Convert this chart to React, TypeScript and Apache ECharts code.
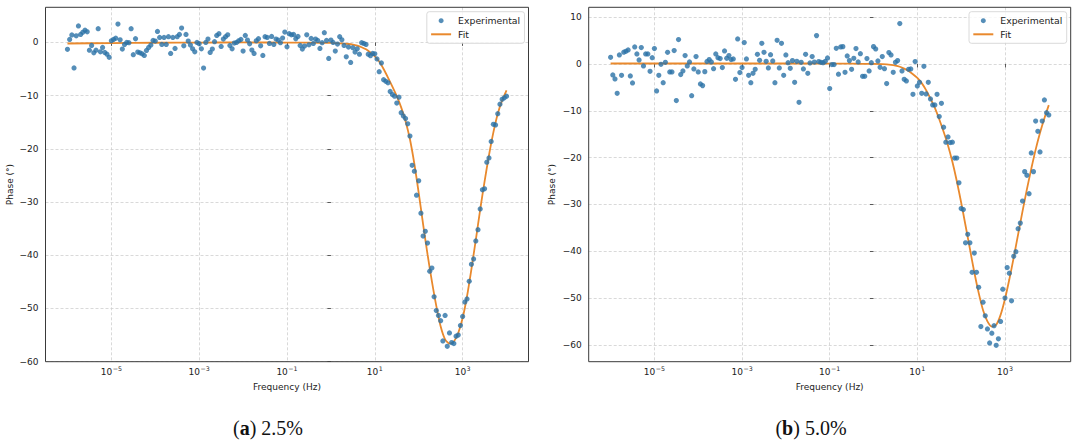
import React, { useEffect, useRef } from "react";
import * as echarts from "echarts";

// log10 of frequency (Hz) for the experimental points
const logFreq = [
  -6, -5.95, -5.9, -5.85, -5.8, -5.75, -5.7, -5.65, -5.6, -5.55,
  -5.5, -5.45, -5.4, -5.35, -5.3, -5.25, -5.2, -5.15, -5.1, -5.05,
  -5, -4.95, -4.9, -4.85, -4.8, -4.75, -4.7, -4.65, -4.6, -4.55,
  -4.5, -4.45, -4.4, -4.35, -4.3, -4.25, -4.2, -4.15, -4.1, -4.05,
  -4, -3.95, -3.9, -3.85, -3.8, -3.75, -3.7, -3.65, -3.6, -3.55,
  -3.5, -3.45, -3.4, -3.35, -3.3, -3.25, -3.2, -3.15, -3.1, -3.05,
  -3, -2.95, -2.9, -2.85, -2.8, -2.75, -2.7, -2.65, -2.6, -2.55,
  -2.5, -2.45, -2.4, -2.35, -2.3, -2.25, -2.2, -2.15, -2.1, -2.05,
  -2, -1.95, -1.9, -1.85, -1.8, -1.75, -1.7, -1.65, -1.6, -1.55,
  -1.5, -1.45, -1.4, -1.35, -1.3, -1.25, -1.2, -1.15, -1.1, -1.05,
  -1, -0.95, -0.9, -0.85, -0.8, -0.75, -0.7, -0.65, -0.6, -0.55,
  -0.5, -0.45, -0.4, -0.35, -0.3, -0.25, -0.2, -0.15, -0.1, -0.05,
  0, 0.05, 0.1, 0.15, 0.2, 0.25, 0.3, 0.35, 0.4, 0.45,
  0.5, 0.55, 0.6, 0.65, 0.7, 0.75, 0.8, 0.85, 0.9, 0.95,
  1, 1.05, 1.1, 1.15, 1.2, 1.25, 1.3, 1.35, 1.4, 1.45,
  1.5, 1.55, 1.6, 1.65, 1.7, 1.75, 1.8, 1.85, 1.9, 1.95,
  2, 2.05, 2.1, 2.15, 2.2, 2.25, 2.3, 2.35, 2.4, 2.45,
  2.5, 2.55, 2.6, 2.65, 2.7, 2.75, 2.8, 2.85, 2.9, 2.95,
  3, 3.05, 3.1, 3.15, 3.2, 3.25, 3.3, 3.35, 3.4, 3.45,
  3.5, 3.55, 3.6, 3.65, 3.7, 3.75, 3.8, 3.85, 3.9, 3.95,
  4,
];

// (a) 2.5% — measured phase (deg)
const phaseA = [
  -1.3, 0.56, 1.4, -4.8, 1.25, 3.1, 1.5, 1.9, 2.3, 2.0,
  -1.45, -0.56, -1.95, -1.45, 2.57, -1.76, -0.94, -1.88, -2.2, -2.8,
  0.31, 0.56, 0.8, 3.45, 0.5, -1.25, -0.38, 0, -0.06, 2.57,
  -2.3, 0.69, -1.82, -1.95, -2.13, -2.45, -1.5, -0.94, -0.5, 0.38,
  0.25, 2.07, 0.94, -0.38, 0.94, -0.38, 1.07, -2.07, 0.94, -1.13,
  1.07, 1.5, 2.7, -0.63, 1.5, 0.25, -0.5, -1.19, -1.76, 0,
  -0.25, -1.19, -4.83, 0, 0.63, -1.88, -1.25, 0.13, 1.32, 1.63,
  -0.75, 0.63, 1.07, 1.44, -0.56, -1.19, -0.13, 0, 0.31, 0.56,
  -1.63, 1.32, 0.44, -0.25, -1.44, -2.07, 0.31, 0.69, -0.63, -2.45,
  1.07, 0.94, -0.19, 1.13, -0.38, 0.63, 0.44, -0.06, 0.82, 1.95,
  -0.82, 1.63, 1.44, 1.5, 0.69, 1.13, -0.56, -1.25, -0.69, 1.44,
  -0.44, 0.75, -0.19, 0.63, 0.38, -1.13, -0.06, 1.82, 0.38, -3.0,
  0.44, 0, -1.63, -0.31, 1.07, 0.5, -0.56, -2.7, -0.88, -3.77,
  -1.0, -1.82, -1.19, -2.2, -0.06, -0.19, -0.38, -2.2, -2.5, -2.07,
  -2.15, -3.1, -5.5, -3.85, -7.0, -7.3, -7.6, -9.2, -9.8, -10.1,
  -11.4, -10.3, -13.2, -13.85, -14.3, -15.3, -17.6, -23.1, -24.2, -28.7,
  -26.0, -32.1, -36.4, -35.5, -37.7, -43.0, -42.4, -47.8, -50.4, -51.3,
  -52.3, -56.1, -51.3, -57.1, -54.6, -56.4, -56.6, -55.2, -55.0, -53.2,
  -51.5, -48.8, -48.2, -44.9, -41.7, -40.7, -37.3, -35.2, -31.3, -27.7,
  -27.5, -22.5, -21.7, -18.6, -15.4, -15.5, -13.4, -11.6, -10.7, -10.4,
  -10.1,
];

// (b) 5.0% — measured phase (deg)
const phaseB = [
  1.42, -2.35, -3.2, -6.27, 1.92, -2.42, 2.5, 2.71, 3.0, -2.56,
  -4.06, 3.63, 2.14, 0.85, 3.49, -0.43, 2.14, 2.14, -1.57, 1.35,
  3.28, -5.77, -2.42, -0.07, -3.99, 0.36, 2.49, -1.71, -1.71, 2.85,
  -7.83, 5.2, -2.28, -1.5, 1.78, -0.43, 0.43, -6.77, -1.07, 1.57,
  -1.71, -4.27, -4.63, -1.64, 0.5, 0.93, 0.43, -1.0, 2.14, 1.35,
  1.14, -0.78, 2.78, 1.2, 1.78, 0.93, 1.07, -3.28, 5.34, -1.85,
  -0.78, 4.56, 1.07, -2.42, -3.99, -1.99, -1.14, 2.07, 0.78, 4.42,
  2.49, 0.57, -0.85, 1.99, 0.64, -3.99, 5.06, -0.85, 4.42, -2.42,
  1.92, 0.28, -0.93, 0.71, -3.92, 0.57, -8.19, 0.36, -1.07, 2.07,
  -1.99, 0.21, 1.57, 0.4, 6.05, 0.5, 0.36, 0.28, 0.57, 1.28,
  -5.27, -0.14, -0.14, 3.35, -2.2, 3.63, 3.7, -1.78, 1.71, 0.71,
  -1.14, 1.21, 3.28, 0.43, 2.2, -2.63, -2.63, 1.14, -1.5, 0.28,
  3.7, 3.2, 0.64, -0.71, 1.57, -1.0, -4.2, 2.42, 1.92, -1.78,
  0.36, 0.71, 8.62, -1.5, -3.28, -3.63, -1.14, -1.07, -6.48, 0.5,
  -4.7, -3.92, -6.27, -0.5, -6.41, -3.92, -7.48, -8.76, -8.76, -6.48,
  -11.25, -8.4, -13.5, -16.7, -15.6, -16.8, -16.7, -20.1, -20.1, -25.4,
  -30.9, -31.1, -38.2, -36.4, -38.2, -44.5, -40.4, -44.5, -47.7, -56.1,
  -50.9, -53.8, -56.6, -59.6, -57.5, -55.9, -60.1, -58.7, -55.0, -48.1,
  -50.0, -43.5, -44.7, -50.6, -41.1, -40.1, -35.2, -34.0, -29.3, -23.0,
  -23.8, -27.7, -19.0, -23.0, -12.2, -14.4, -18.8, -12.2, -7.7, -10.4,
  -10.9,
];

// log10 of frequency (Hz) for the fitted curves
const fitLogFreq = [
  -6, -5, -4, -3, -2, -1, -0.5, 0, 0.2,
  0.4, 0.5, 0.6, 0.7, 0.8, 0.9, 1.0, 1.1, 1.2, 1.3,
  1.4, 1.5, 1.6, 1.7, 1.8, 1.9, 2.0, 2.1, 2.2, 2.3,
  2.4, 2.5, 2.6, 2.7, 2.8, 2.9, 3.0, 3.1, 3.2, 3.3,
  3.4, 3.5, 3.6, 3.7, 3.8, 3.9, 4.0,
];

const fitA = [
  -0.2, -0.12, -0.06, -0.03, -0.01, -0.02, -0.05, -0.1, -0.18,
  -0.3, -0.4, -0.6, -0.9, -1.3, -1.9, -2.6, -3.6, -5.0, -6.6,
  -8.3, -10.1, -12.2, -14.8, -18.2, -22.8, -28.3, -34.2, -39.8, -44.9,
  -49.5, -53.4, -55.8, -56.6, -56.2, -54.6, -51.8, -47.7, -42.6, -37.1,
  -31.4, -26.1, -21.2, -16.9, -13.4, -10.9, -9.0,
];

const fitB = [
  0.1, 0.1, 0.1, 0.1, 0.1, 0.08, 0.05, 0.0, -0.05,
  -0.2, -0.35, -0.6, -1.0, -1.5, -2.2, -3.0, -4.1, -5.6, -7.4,
  -9.4, -11.8, -14.5, -17.4, -20.9, -25.0, -29.6, -34.5, -39.5, -44.5,
  -48.9, -52.6, -55.0, -56.1, -55.7, -53.6, -50.2, -46.0, -41.3, -36.4,
  -31.5, -26.8, -22.4, -18.3, -14.7, -11.6, -8.8,
];

const xTickExp = [-5, -3, -1, 1, 3];
const yTicksA = [-60, -50, -40, -30, -20, -10, 0];
const yTicksB = [-60, -50, -40, -30, -20, -10, 0, 10];
const expName = "Experimental";
const fitName = "Fit";
const captionTags = ["a", "b"];
const captionTexts = [" 2.5%", " 5.0%"];

const SANS = "DejaVu Sans";
const SERIF = "Liberation Serif";
const TXT = "#222";
const BLUE = "#2a72a6";
const ORANGE = "#e9892d";

export default function App() {
  const ref = useRef<HTMLDivElement>(null);

  useEffect(() => {
    document.body.style.margin = "0";
    const chart = echarts.init(ref.current as HTMLDivElement, null, { renderer: "svg" });

    const grids = [
      { left: 45.5, top: 7.3, width: 483, height: 354.4 },
      { left: 588.7, top: 7.3, width: 482, height: 354.4 },
    ];
    const yRanges = [
      { min: -60, max: 6.6, ticks: yTicksA, gap: 31 },
      { min: -63.6, max: 12.1, ticks: yTicksB, gap: 32.5 },
    ];
    const phases = [phaseA, phaseB];
    const fits = [fitA, fitB];
    const legendRight = [555.5, 13.3];
    const captionX = [268, 811];

    const splitLine = {
      show: true,
      lineStyle: { color: "#cfcfcf", width: 0.8, type: [3, 2] },
    };
    const tick = (vals: number[]) => ({
      show: true,
      inside: false,
      length: 3.5,
      customValues: vals,
      lineStyle: { color: "#333", width: 0.8 },
    });

    const option: any = {
      animation: false,
      backgroundColor: "#fff",
      grid: grids.map((g) => ({
        ...g,
        show: true,
        z: 10,
        borderColor: "#3a3a3a",
        borderWidth: 1,
        backgroundColor: "transparent",
        containLabel: false,
      })),
      xAxis: grids.map((_, k) => ({
        type: "value",
        gridIndex: k,
        min: -6.5,
        max: 4.5,
        axisLine: { show: false },
        axisTick: tick(xTickExp),
        axisLabel: {
          customValues: xTickExp,
          margin: 4.1,
          formatter: (v: number) =>
            `{b|10}{s|${v < 0 ? "\u2212" : ""}${Math.abs(v)}}`,
          rich: {
            b: { fontFamily: SANS, fontSize: 9, color: TXT, lineHeight: 11, verticalAlign: "bottom" },
            s: {
              fontFamily: SANS,
              fontSize: 6.3,
              color: TXT,
              lineHeight: 7,
              verticalAlign: "top",
              padding: [0, 0, 6, 0.5],
            },
          },
        },
        splitLine,
        name: "Frequency (Hz)",
        nameLocation: "middle",
        nameGap: 20,
        nameTextStyle: { fontFamily: SANS, fontSize: 9, color: TXT },
      })),
      yAxis: grids.map((_, k) => ({
        type: "value",
        gridIndex: k,
        min: yRanges[k].min,
        max: yRanges[k].max,
        axisLine: { show: false },
        axisTick: tick(yRanges[k].ticks),
        axisLabel: {
          customValues: yRanges[k].ticks,
          margin: 7,
          fontFamily: SANS,
          fontSize: 9,
          color: TXT,
          formatter: (v: number) => (v < 0 ? "\u2212" + Math.abs(v) : String(v)),
        },
        splitLine,
        name: "Phase (\u00b0)",
        nameLocation: "middle",
        nameGap: yRanges[k].gap,
        nameTextStyle: { fontFamily: SANS, fontSize: 9, color: TXT },
      })),
      legend: grids.map((_, k) => ({
        data: [
          { name: expName, icon: "circle" },
          { name: fitName, itemStyle: { opacity: 0 } },
        ],
        orient: "vertical",
        right: legendRight[k],
        top: 11.7,
        itemWidth: 20,
        itemHeight: 5,
        itemGap: 3.6,
        padding: [4, 4.4, 4, 3.3],
        backgroundColor: "rgba(255,255,255,0.8)",
        borderColor: "#d0d0d0",
        borderWidth: 0.8,
        borderRadius: 2.5,
        selectedMode: false,
        textStyle: {
          fontFamily: SANS,
          fontSize: 9.3,
          color: TXT,
          lineHeight: 10,
          padding: [0, 0, 0, 2],
        },
      })),
      series: grids.flatMap((_, k) => [
        {
          type: "line",
          name: fitName,
          xAxisIndex: k,
          yAxisIndex: k,
          data: fitLogFreq.map((x, i) => [x, fits[k][i]]),
          symbol: "none",
          smooth: 0.25,
          silent: true,
          lineStyle: { color: ORANGE, width: 1.8 },
          itemStyle: { color: ORANGE },
          z: 2,
        },
        {
          type: "scatter",
          name: expName,
          xAxisIndex: k,
          yAxisIndex: k,
          data: logFreq.map((x, i) => [x, phases[k][i]]),
          symbol: "circle",
          symbolSize: 5.2,
          silent: true,
          itemStyle: { color: BLUE },
          z: 3,
        },
      ]),
      graphic: captionTags.map((tag, k) => ({
        type: "text",
        x: captionX[k],
        y: 428,
        silent: true,
        style: {
          text: `{n|(}{a|${tag}}{n|)${captionTexts[k]}}`,
          fontFamily: SERIF,
          fontSize: 20,
          fill: "#111",
          align: "center",
          verticalAlign: "middle",
          rich: {
            n: { fontFamily: SERIF, fontSize: 20, fill: "#111" },
            a: { fontFamily: SERIF, fontSize: 20, fontWeight: "bold", fill: "#111" },
          },
        },
      })),
    };

    chart.setOption(option);
    return () => chart.dispose();
  }, []);

  return (
    <div
      ref={ref}
      style={{ position: "absolute", left: 0, top: 0, width: 1080, height: 445 }}
    />
  );
}
